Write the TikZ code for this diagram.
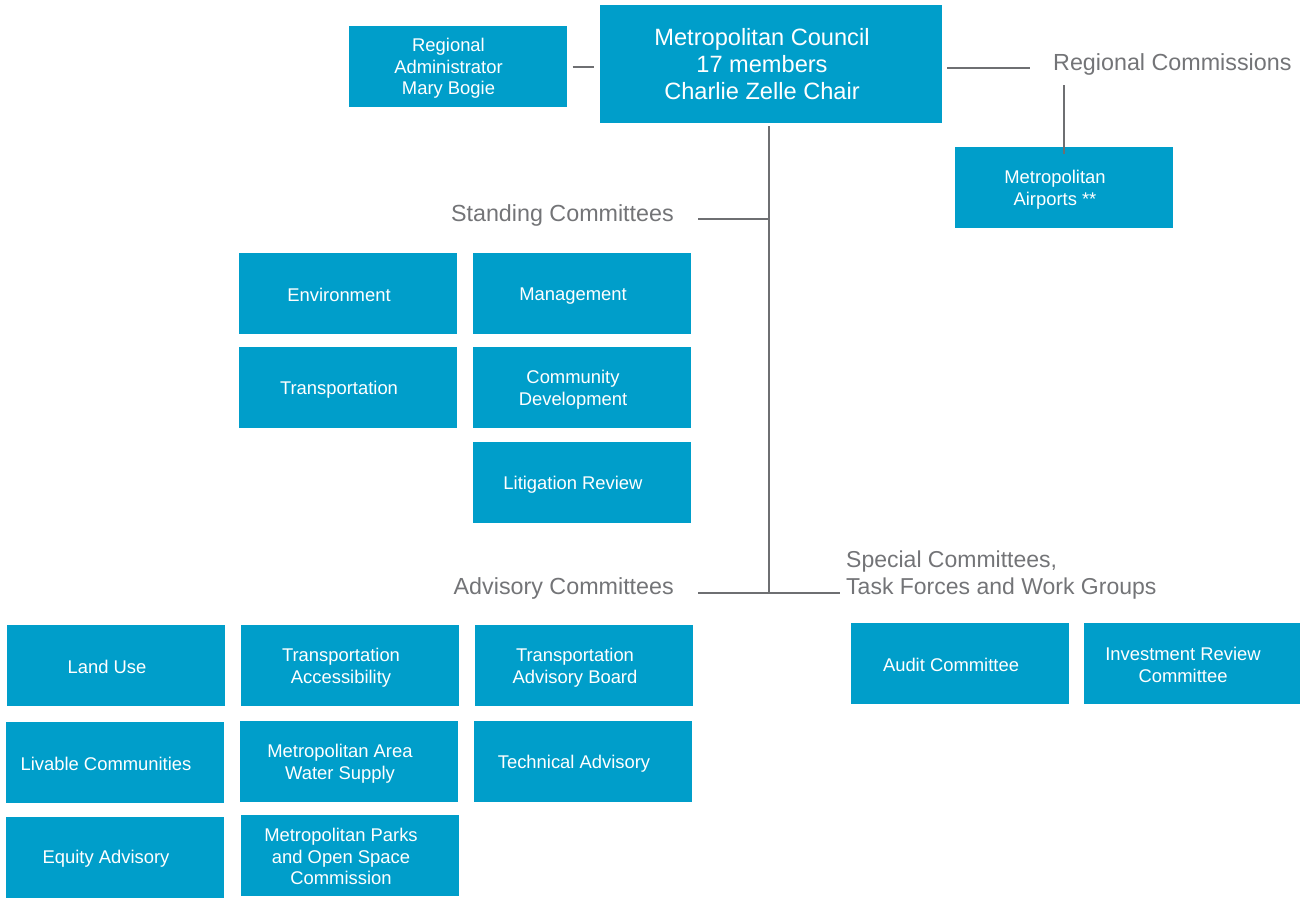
\documentclass[tikz,border=0pt]{standalone}
\usepackage{fontspec}
\setmainfont{Liberation Sans}
\definecolor{boxblue}{RGB}{0,158,202}
\definecolor{linegray}{RGB}{110,111,114}
\definecolor{txtgray}{RGB}{115,116,119}
\newcommand\ostrutA{\rule[-2pt]{0pt}{19.4pt}}
% \orgbox[extra options]{name}{x,y}{text}
\newcommand\orgbox[4][]{%
  \node[box,#1] (#2) at (#3) {};
  \node[boxtxt] (#2-t) at ([xshift=-9pt]#2.center) {\ostrutA#4\ostrutA};}
\begin{document}
\begin{tikzpicture}[x=1pt,y=-1pt,
  box/.style={fill=boxblue,draw=none,inner sep=0pt,minimum width=218pt,minimum height=81pt},
  boxtxt/.style={text=white,inner sep=0pt,align=center,font=\fontsize{18.4}{21.7}\selectfont},
  bigtxt/.style={boxtxt,font=\fontsize{23.6}{27}\selectfont},
  lbl/.style={text=txtgray,inner sep=0pt,font=\fontsize{23.3}{27}\selectfont},
  conn/.style={draw=linegray,line width=2.8pt}]
\useasboundingbox (0,0) rectangle (1301,897);
% top
\orgbox{ra}{457.5,66.5}{Regional\\Administrator\\Mary Bogie}
\node[box,minimum width=342pt,minimum height=118pt] (main) at (771,64) {};
\node[bigtxt] (main-t) at ([xshift=-9pt]main.center) {Metropolitan Council\\17 members\\Charlie Zelle Chair};
\node[lbl,anchor=west] (rc) at (1053,64.5) {Regional Commissions};
\orgbox{air}{1064,187.5}{Metropolitan\\Airports **}
\draw[conn] ([xshift=6pt]ra.east |- 0,67) -- ([xshift=-6pt]main.west |- 0,67);
\draw[conn] ([xshift=5pt]main.east |- 0,68) -- ([xshift=-23pt]rc.west |- 0,68);
\coordinate (rcb) at (1064,85);
\draw[conn] (rcb) -- ([yshift=-7pt]air.north -| rcb);
% trunk
\coordinate (t0) at (769,126);
\coordinate (tS) at (769,219);
\coordinate (tA) at (769,593);
\draw[conn] (t0) -- (tA);
\node[lbl,anchor=east] (sc) at (674,215.5) {Standing Committees};
\coordinate (sl) at (698,219);
\draw[conn] (sl) -- (tS);
\node[lbl,anchor=east] (ac) at (674,588.5) {Advisory Committees};
\node[lbl,anchor=west,align=left,font=\fontsize{23}{27}\selectfont] (sp) at (846,575) {Special Committees,\\Task Forces and Work Groups};
\coordinate (al) at (698,593);
\coordinate (ar) at (840,593);
\draw[conn] (al) -- (ar);
% standing
\orgbox{env}{348,293.5}{Environment}
\orgbox{mgmt}{582,293.5}{Management}
\orgbox{trans}{348,387.5}{Transportation}
\orgbox{cd}{582,387.5}{Community\\Development}
\orgbox{lit}{582,482.5}{Litigation Review}
% advisory
\orgbox{lu}{116,665.5}{Land Use}
\orgbox{lc}{115,762.5}{Livable Communities}
\orgbox{eq}{115,857}{Equity Advisory}
\orgbox{ta}{350,665.5}{Transportation\\Accessibility}
\orgbox{mw}{349,761.5}{Metropolitan Area\\Water Supply}
\orgbox{mp}{350,855.5}{Metropolitan Parks\\and Open Space\\Commission}
\orgbox{tab}{584,665.5}{Transportation\\Advisory Board}
\orgbox{tech}{583,761.5}{Technical Advisory}
% special
\orgbox{aud}{960,663.5}{Audit Committee}
\orgbox[minimum width=216pt]{inv}{1192,663.5}{Investment Review\\Committee}
\end{tikzpicture}
\end{document}
